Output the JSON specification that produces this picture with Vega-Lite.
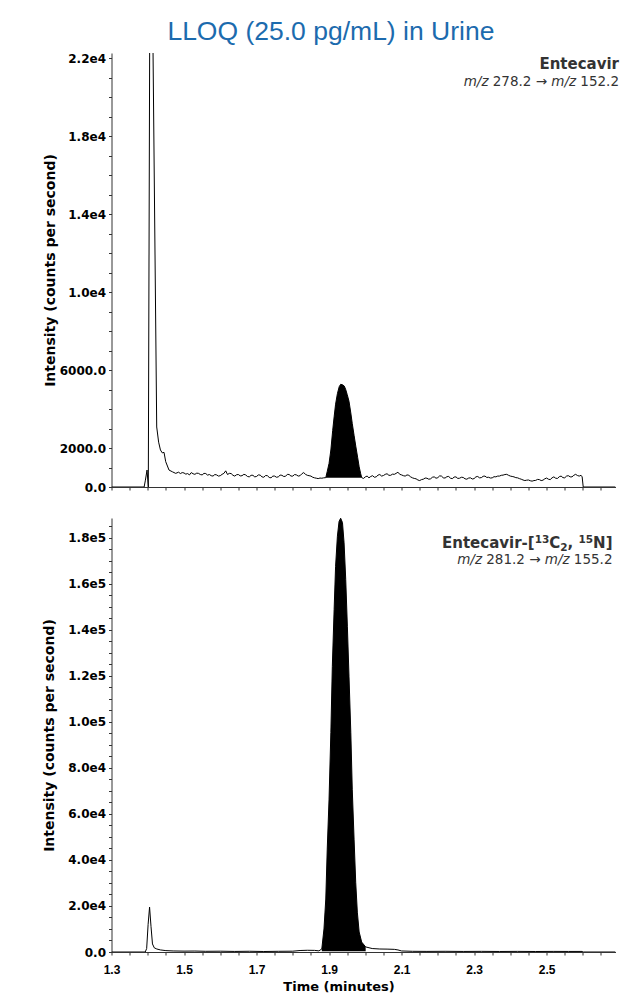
{
  "$schema": "https://vega.github.io/schema/vega-lite/v6.json",
  "background": "white",
  "padding": {"left": 42.5, "top": 18, "right": 5, "bottom": 5},
  "title": {"text": "LLOQ (25.0 pg/mL) in Urine", "font": "Liberation Sans", "fontSize": 26.5, "fontWeight": "normal", "color": "#1c6bae", "anchor": "middle", "frame": "bounds", "offset": 7},
  "spacing": 25,
  "datasets": {
    "top": [
      {"t":1.3,"v":0},{"t":1.39,"v":0},{"t":1.3935,"v":350},{"t":1.398,"v":870},{"t":1.4015,"v":0},{"t":1.4065,"v":30000},{"t":1.4105,"v":30000},{"t":1.4247,"v":3080},{"t":1.43,"v":2300},{"t":1.435,"v":1900},{"t":1.4401,"v":1750},{"t":1.4448,"v":1780},{"t":1.4495,"v":1300},{"t":1.4586,"v":870},{"t":1.468,"v":780},{"t":1.4771,"v":700},{"t":1.485,"v":760},{"t":1.49,"v":690},{"t":1.495,"v":740},
      {"t":1.5,"v":720},{"t":1.505,"v":660},{"t":1.51,"v":690},{"t":1.515,"v":620},{"t":1.52,"v":740},{"t":1.525,"v":680},{"t":1.53,"v":650},{"t":1.535,"v":710},{"t":1.54,"v":700},{"t":1.545,"v":640},{"t":1.55,"v":620},{"t":1.555,"v":700},{"t":1.56,"v":690},{"t":1.565,"v":610},{"t":1.57,"v":640},{"t":1.575,"v":580},{"t":1.58,"v":560},{"t":1.585,"v":640},{"t":1.59,"v":620},{"t":1.595,"v":560},
      {"t":1.6,"v":580},{"t":1.605,"v":650},{"t":1.61,"v":700},{"t":1.615,"v":830},{"t":1.62,"v":640},{"t":1.625,"v":700},{"t":1.63,"v":690},{"t":1.635,"v":600},{"t":1.64,"v":560},{"t":1.645,"v":630},{"t":1.65,"v":640},{"t":1.655,"v":570},{"t":1.66,"v":580},{"t":1.665,"v":650},{"t":1.67,"v":620},{"t":1.675,"v":540},{"t":1.68,"v":520},{"t":1.685,"v":600},{"t":1.69,"v":600},{"t":1.695,"v":520},
      {"t":1.7,"v":540},{"t":1.705,"v":620},{"t":1.71,"v":610},{"t":1.715,"v":520},{"t":1.72,"v":500},{"t":1.725,"v":590},{"t":1.73,"v":580},{"t":1.735,"v":490},{"t":1.74,"v":470},{"t":1.745,"v":560},{"t":1.75,"v":560},{"t":1.755,"v":500},{"t":1.76,"v":520},{"t":1.765,"v":610},{"t":1.77,"v":600},{"t":1.775,"v":540},{"t":1.78,"v":550},{"t":1.785,"v":650},{"t":1.79,"v":640},{"t":1.795,"v":560},
      {"t":1.8,"v":560},{"t":1.805,"v":640},{"t":1.81,"v":620},{"t":1.815,"v":560},{"t":1.82,"v":580},{"t":1.825,"v":680},{"t":1.83,"v":740},{"t":1.835,"v":650},{"t":1.84,"v":600},{"t":1.845,"v":580},{"t":1.85,"v":560},{"t":1.855,"v":500},{"t":1.86,"v":470},{"t":1.865,"v":450},{"t":1.87,"v":430},{"t":1.875,"v":460},{"t":1.88,"v":450},{"t":1.885,"v":470},
      {"t":1.891,"v":480},{"t":1.895,"v":800},{"t":1.9,"v":1210},{"t":1.905,"v":1900},{"t":1.91,"v":2900},{"t":1.914,"v":3600},{"t":1.918,"v":4250},{"t":1.923,"v":4790},{"t":1.928,"v":5150},{"t":1.932,"v":5270},{"t":1.937,"v":5250},{"t":1.942,"v":5180},{"t":1.946,"v":5000},{"t":1.95,"v":4750},{"t":1.955,"v":4400},{"t":1.96,"v":3800},{"t":1.964,"v":3260},{"t":1.969,"v":2650},{"t":1.974,"v":2060},{"t":1.979,"v":1500},{"t":1.983,"v":1040},{"t":1.987,"v":700},{"t":1.99,"v":480},{"t":1.995,"v":440},
      {"t":2.0,"v":520},{"t":2.005,"v":560},{"t":2.01,"v":470},{"t":2.015,"v":540},{"t":2.02,"v":580},{"t":2.025,"v":500},{"t":2.03,"v":520},{"t":2.035,"v":610},{"t":2.04,"v":640},{"t":2.045,"v":560},{"t":2.05,"v":590},{"t":2.055,"v":650},{"t":2.06,"v":680},{"t":2.065,"v":600},{"t":2.07,"v":600},{"t":2.075,"v":660},{"t":2.08,"v":650},{"t":2.085,"v":700},{"t":2.09,"v":760},{"t":2.095,"v":650},
      {"t":2.1,"v":620},{"t":2.105,"v":580},{"t":2.11,"v":560},{"t":2.115,"v":620},{"t":2.12,"v":600},{"t":2.125,"v":520},{"t":2.13,"v":470},{"t":2.135,"v":440},{"t":2.14,"v":420},{"t":2.145,"v":360},{"t":2.15,"v":330},{"t":2.155,"v":380},{"t":2.16,"v":400},{"t":2.165,"v":460},{"t":2.17,"v":450},{"t":2.175,"v":400},{"t":2.18,"v":420},{"t":2.185,"v":500},{"t":2.19,"v":520},{"t":2.195,"v":450},
      {"t":2.2,"v":480},{"t":2.205,"v":570},{"t":2.21,"v":560},{"t":2.215,"v":470},{"t":2.22,"v":460},{"t":2.225,"v":530},{"t":2.23,"v":540},{"t":2.235,"v":450},{"t":2.24,"v":430},{"t":2.245,"v":510},{"t":2.25,"v":520},{"t":2.255,"v":440},{"t":2.26,"v":450},{"t":2.265,"v":500},{"t":2.27,"v":490},{"t":2.275,"v":420},{"t":2.28,"v":400},{"t":2.285,"v":460},{"t":2.29,"v":470},{"t":2.295,"v":410},
      {"t":2.3,"v":430},{"t":2.305,"v":520},{"t":2.31,"v":540},{"t":2.315,"v":470},{"t":2.32,"v":480},{"t":2.325,"v":550},{"t":2.33,"v":560},{"t":2.335,"v":490},{"t":2.34,"v":500},{"t":2.345,"v":460},{"t":2.35,"v":470},{"t":2.355,"v":530},{"t":2.36,"v":520},{"t":2.365,"v":560},{"t":2.37,"v":560},{"t":2.375,"v":600},{"t":2.38,"v":610},{"t":2.385,"v":640},{"t":2.39,"v":650},{"t":2.395,"v":600},
      {"t":2.4,"v":560},{"t":2.405,"v":540},{"t":2.41,"v":520},{"t":2.415,"v":480},{"t":2.42,"v":470},{"t":2.425,"v":430},{"t":2.43,"v":400},{"t":2.435,"v":360},{"t":2.44,"v":330},{"t":2.445,"v":350},{"t":2.45,"v":360},{"t":2.455,"v":320},{"t":2.46,"v":300},{"t":2.465,"v":330},{"t":2.47,"v":340},{"t":2.475,"v":390},{"t":2.48,"v":380},{"t":2.485,"v":330},{"t":2.49,"v":350},{"t":2.495,"v":420},
      {"t":2.5,"v":460},{"t":2.505,"v":400},{"t":2.51,"v":380},{"t":2.515,"v":470},{"t":2.52,"v":520},{"t":2.525,"v":450},{"t":2.53,"v":440},{"t":2.535,"v":530},{"t":2.54,"v":560},{"t":2.545,"v":480},{"t":2.55,"v":470},{"t":2.555,"v":560},{"t":2.56,"v":580},{"t":2.565,"v":520},{"t":2.57,"v":520},{"t":2.575,"v":600},{"t":2.58,"v":650},{"t":2.585,"v":590},{"t":2.59,"v":560},{"t":2.595,"v":600},{"t":2.598,"v":520},{"t":2.601,"v":0},{"t":2.69,"v":0}
    ],
    "topPeak": [
      {"t":1.891,"v":480,"base":480},{"t":1.895,"v":800,"base":480},{"t":1.9,"v":1210,"base":480},{"t":1.905,"v":1900,"base":480},{"t":1.91,"v":2900,"base":480},{"t":1.914,"v":3600,"base":480},{"t":1.918,"v":4250,"base":480},{"t":1.923,"v":4790,"base":480},{"t":1.928,"v":5150,"base":480},{"t":1.932,"v":5270,"base":480},{"t":1.937,"v":5250,"base":480},{"t":1.942,"v":5180,"base":480},{"t":1.946,"v":5000,"base":480},{"t":1.95,"v":4750,"base":480},{"t":1.955,"v":4400,"base":480},{"t":1.96,"v":3800,"base":480},{"t":1.964,"v":3260,"base":480},{"t":1.969,"v":2650,"base":480},{"t":1.974,"v":2060,"base":480},{"t":1.979,"v":1500,"base":480},{"t":1.983,"v":1040,"base":480},{"t":1.987,"v":700,"base":480},{"t":1.99,"v":480,"base":480}
    ],
    "bottom": [
      {"t":1.3,"v":0},{"t":1.393,"v":0},{"t":1.397,"v":1500},{"t":1.401,"v":12000},{"t":1.405,"v":19500},{"t":1.409,"v":11000},{"t":1.413,"v":3500},{"t":1.418,"v":1800},{"t":1.425,"v":1300},{"t":1.435,"v":900},{"t":1.45,"v":600},{"t":1.47,"v":450},{"t":1.5,"v":380},{"t":1.53,"v":420},{"t":1.56,"v":300},{"t":1.6,"v":350},{"t":1.64,"v":250},{"t":1.68,"v":320},{"t":1.72,"v":220},{"t":1.76,"v":300},{"t":1.8,"v":350},{"t":1.82,"v":650},{"t":1.84,"v":750},{"t":1.86,"v":700},{"t":1.872,"v":500},
      {"t":1.88,"v":1300},{"t":1.886,"v":10000},{"t":1.891,"v":23000},{"t":1.895,"v":44700},{"t":1.9,"v":66400},{"t":1.905,"v":95400},{"t":1.909,"v":124000},{"t":1.914,"v":148800},{"t":1.918,"v":167500},{"t":1.923,"v":180600},{"t":1.9276,"v":187000},{"t":1.932,"v":188400},{"t":1.937,"v":186500},{"t":1.9414,"v":177700},{"t":1.946,"v":161800},{"t":1.9505,"v":141500},{"t":1.955,"v":119800},{"t":1.96,"v":95400},{"t":1.964,"v":70700},{"t":1.969,"v":49000},{"t":1.9735,"v":30300},{"t":1.978,"v":17300},{"t":1.983,"v":8700},{"t":1.99,"v":4300},{"t":2.001,"v":2200},
      {"t":2.019,"v":1500},{"t":2.04,"v":1300},{"t":2.06,"v":1250},{"t":2.08,"v":1150},{"t":2.09,"v":900},{"t":2.1,"v":450},{"t":2.13,"v":300},{"t":2.17,"v":260},{"t":2.22,"v":300},{"t":2.27,"v":240},{"t":2.32,"v":280},{"t":2.37,"v":230},{"t":2.42,"v":270},{"t":2.47,"v":220},{"t":2.52,"v":260},{"t":2.56,"v":240},{"t":2.598,"v":250},{"t":2.601,"v":0},{"t":2.69,"v":0}
    ],
    "bottomPeak": [
      {"t":1.88,"v":1300,"base":300},{"t":1.886,"v":10000,"base":300},{"t":1.891,"v":23000,"base":300},{"t":1.895,"v":44700,"base":300},{"t":1.9,"v":66400,"base":300},{"t":1.905,"v":95400,"base":300},{"t":1.909,"v":124000,"base":300},{"t":1.914,"v":148800,"base":300},{"t":1.918,"v":167500,"base":300},{"t":1.923,"v":180600,"base":300},{"t":1.9276,"v":187000,"base":300},{"t":1.932,"v":188400,"base":300},{"t":1.937,"v":186500,"base":300},{"t":1.9414,"v":177700,"base":300},{"t":1.946,"v":161800,"base":300},{"t":1.9505,"v":141500,"base":300},{"t":1.955,"v":119800,"base":300},{"t":1.96,"v":95400,"base":300},{"t":1.964,"v":70700,"base":300},{"t":1.969,"v":49000,"base":300},{"t":1.9735,"v":30300,"base":300},{"t":1.978,"v":17300,"base":300},{"t":1.983,"v":8700,"base":300},{"t":1.99,"v":4300,"base":300},{"t":2.001,"v":2200,"base":300}
    ],
    "topLabels": [
      {"piece": "name", "s": "Entecavir"},
      {"piece": "q3", "s": "152.2"},
      {"piece": "mz2", "s": "m/z"},
      {"piece": "q1", "s": "278.2 →"},
      {"piece": "mz1", "s": "m/z"}
    ],
    "bottomLabels": [
      {"piece": "name", "s": "Entecavir-["},
      {"piece": "sup13", "s": "13"},
      {"piece": "C", "s": "C"},
      {"piece": "sub2", "s": "2"},
      {"piece": "comma", "s": ","},
      {"piece": "sup15", "s": "15"},
      {"piece": "N", "s": "N]"},
      {"piece": "q3", "s": "155.2"},
      {"piece": "mz2", "s": "m/z"},
      {"piece": "q1", "s": "281.2 →"},
      {"piece": "mz1", "s": "m/z"}
    ]
  },
  "vconcat": [
    {
      "width": 504,
      "height": 434,
      "layer": [
        {
          "data": {"name": "topPeak"},
          "mark": {"type": "area", "color": "#000000", "clip": true},
          "encoding": {
            "x": {"field": "t", "type": "quantitative", "scale": {"domain": [1.3, 2.69], "nice": false, "zero": false},
              "axis": {"values": [1.3,1.35,1.4,1.45,1.5,1.55,1.6,1.65,1.7,1.75,1.8,1.85,1.9,1.95,2.0,2.05,2.1,2.15,2.2,2.25,2.3,2.35,2.4,2.45,2.5,2.55,2.6,2.65], "tickCount": 200, "labels": false, "title": null}},
            "y": {"field": "v", "type": "quantitative", "scale": {"domain": [0, 22275], "nice": false, "zero": false},
              "axis": {"values": [0,1000,2000,3000,4000,5000,6000,7000,8000,9000,10000,11000,12000,13000,14000,15000,16000,17000,18000,19000,20000,21000,22000], "tickCount": 200,
                "labelExpr": "datum.value == 0 ? '0.0' : (datum.value - 2000) % 4000 != 0 ? '' : datum.value < 10000 ? format(datum.value, '.1f') : format(datum.value / 10000, '.1f') + 'e4'",
                "title": "Intensity (counts per second)", "titlePadding": 2}},
            "y2": {"field": "base"}
          }
        },
        {
          "data": {"name": "top"},
          "mark": {"type": "line", "color": "#000000", "strokeWidth": 1, "clip": true},
          "encoding": {
            "x": {"field": "t", "type": "quantitative", "scale": {"domain": [1.3, 2.69], "nice": false, "zero": false},
              "axis": {"values": [1.3,1.35,1.4,1.45,1.5,1.55,1.6,1.65,1.7,1.75,1.8,1.85,1.9,1.95,2.0,2.05,2.1,2.15,2.2,2.25,2.3,2.35,2.4,2.45,2.5,2.55,2.6,2.65], "tickCount": 200, "labels": false, "title": null}},
            "y": {"field": "v", "type": "quantitative", "scale": {"domain": [0, 22275], "nice": false, "zero": false},
              "axis": {"values": [0,1000,2000,3000,4000,5000,6000,7000,8000,9000,10000,11000,12000,13000,14000,15000,16000,17000,18000,19000,20000,21000,22000], "tickCount": 200,
                "labelExpr": "datum.value == 0 ? '0.0' : (datum.value - 2000) % 4000 != 0 ? '' : datum.value < 10000 ? format(datum.value, '.1f') : format(datum.value / 10000, '.1f') + 'e4'",
                "title": "Intensity (counts per second)", "titlePadding": 2}}
          }
        },
        {
          "data": {"name": "topLabels"},
          "transform": [{"filter": "datum.piece == 'name'"}],
          "mark": {"type": "text", "align": "right", "baseline": "alphabetic", "font": "DejaVu Sans", "fontWeight": "bold", "fontSize": 15, "color": "#333333", "dx": 3.5, "dy": 15.5},
          "encoding": {"x": {"datum": 2.69, "type": "quantitative"}, "y": {"datum": 22275, "type": "quantitative"}, "text": {"field": "s"}}
        },
        {
          "data": {"name": "topLabels"},
          "transform": [{"filter": "datum.piece == 'q3'"}],
          "mark": {"type": "text", "align": "right", "baseline": "alphabetic", "font": "DejaVu Sans", "fontSize": 13.5, "color": "#333333", "dx": 3.5, "dy": 33},
          "encoding": {"x": {"datum": 2.69, "type": "quantitative"}, "y": {"datum": 22275, "type": "quantitative"}, "text": {"field": "s"}}
        },
        {
          "data": {"name": "topLabels"},
          "transform": [{"filter": "datum.piece == 'mz2'"}],
          "mark": {"type": "text", "align": "right", "baseline": "alphabetic", "font": "DejaVu Sans", "fontStyle": "italic", "fontSize": 13.5, "color": "#333333", "dx": -39.4, "dy": 33},
          "encoding": {"x": {"datum": 2.69, "type": "quantitative"}, "y": {"datum": 22275, "type": "quantitative"}, "text": {"field": "s"}}
        },
        {
          "data": {"name": "topLabels"},
          "transform": [{"filter": "datum.piece == 'q1'"}],
          "mark": {"type": "text", "align": "right", "baseline": "alphabetic", "font": "DejaVu Sans", "fontSize": 13.5, "color": "#333333", "dx": -68.5, "dy": 33},
          "encoding": {"x": {"datum": 2.69, "type": "quantitative"}, "y": {"datum": 22275, "type": "quantitative"}, "text": {"field": "s"}}
        },
        {
          "data": {"name": "topLabels"},
          "transform": [{"filter": "datum.piece == 'mz1'"}],
          "mark": {"type": "text", "align": "right", "baseline": "alphabetic", "font": "DejaVu Sans", "fontStyle": "italic", "fontSize": 13.5, "color": "#333333", "dx": -127, "dy": 33},
          "encoding": {"x": {"datum": 2.69, "type": "quantitative"}, "y": {"datum": 22275, "type": "quantitative"}, "text": {"field": "s"}}
        }
      ]
    },
    {
      "width": 504,
      "height": 434,
      "layer": [
        {
          "data": {"name": "bottomPeak"},
          "mark": {"type": "area", "color": "#000000", "clip": true},
          "encoding": {
            "x": {"field": "t", "type": "quantitative", "scale": {"domain": [1.3, 2.69], "nice": false, "zero": false},
              "axis": {"values": [1.3,1.35,1.4,1.45,1.5,1.55,1.6,1.65,1.7,1.75,1.8,1.85,1.9,1.95,2.0,2.05,2.1,2.15,2.2,2.25,2.3,2.35,2.4,2.45,2.5,2.55,2.6,2.65], "tickCount": 200,
                "labelExpr": "round(datum.value * 100) % 20 == 10 ? format(datum.value, '.1f') : ''",
                "labelFont": "Liberation Sans", "labelFontSize": 12, "labelPadding": 9,
                "title": "Time (minutes)", "titleFontSize": 13, "titlePadding": 5, "titleX": 227}},
            "y": {"field": "v", "type": "quantitative", "scale": {"domain": [0, 188500], "nice": false, "zero": false},
              "axis": {"values": [0,5000,10000,15000,20000,25000,30000,35000,40000,45000,50000,55000,60000,65000,70000,75000,80000,85000,90000,95000,100000,105000,110000,115000,120000,125000,130000,135000,140000,145000,150000,155000,160000,165000,170000,175000,180000,185000], "tickCount": 200,
                "labelExpr": "datum.value % 20000 != 0 ? '' : datum.value == 0 ? '0.0' : datum.value < 100000 ? format(datum.value / 10000, '.1f') + 'e4' : format(datum.value / 100000, '.1f') + 'e5'",
                "title": "Intensity (counts per second)", "titlePadding": 11}},
            "y2": {"field": "base"}
          }
        },
        {
          "data": {"name": "bottom"},
          "mark": {"type": "line", "color": "#000000", "strokeWidth": 1, "clip": true},
          "encoding": {
            "x": {"field": "t", "type": "quantitative", "scale": {"domain": [1.3, 2.69], "nice": false, "zero": false},
              "axis": {"values": [1.3,1.35,1.4,1.45,1.5,1.55,1.6,1.65,1.7,1.75,1.8,1.85,1.9,1.95,2.0,2.05,2.1,2.15,2.2,2.25,2.3,2.35,2.4,2.45,2.5,2.55,2.6,2.65], "tickCount": 200,
                "labelExpr": "round(datum.value * 100) % 20 == 10 ? format(datum.value, '.1f') : ''",
                "labelFont": "Liberation Sans", "labelFontSize": 12, "labelPadding": 9,
                "title": "Time (minutes)", "titleFontSize": 13, "titlePadding": 5, "titleX": 227}},
            "y": {"field": "v", "type": "quantitative", "scale": {"domain": [0, 188500], "nice": false, "zero": false},
              "axis": {"values": [0,5000,10000,15000,20000,25000,30000,35000,40000,45000,50000,55000,60000,65000,70000,75000,80000,85000,90000,95000,100000,105000,110000,115000,120000,125000,130000,135000,140000,145000,150000,155000,160000,165000,170000,175000,180000,185000], "tickCount": 200,
                "labelExpr": "datum.value % 20000 != 0 ? '' : datum.value == 0 ? '0.0' : datum.value < 100000 ? format(datum.value / 10000, '.1f') + 'e4' : format(datum.value / 100000, '.1f') + 'e5'",
                "title": "Intensity (counts per second)", "titlePadding": 11}}
          }
        },
        {
          "data": {"name": "bottomLabels"},
          "transform": [{"filter": "datum.piece == 'name'"}],
          "mark": {"type": "text", "align": "right", "baseline": "alphabetic", "font": "DejaVu Sans", "fontWeight": "bold", "fontSize": 15, "color": "#333333", "dx": -80.8, "dy": 30},
          "encoding": {"x": {"datum": 2.69, "type": "quantitative"}, "y": {"datum": 188500, "type": "quantitative"}, "text": {"field": "s"}}
        },
        {
          "data": {"name": "bottomLabels"},
          "transform": [{"filter": "datum.piece == 'sup13'"}],
          "mark": {"type": "text", "align": "right", "baseline": "alphabetic", "font": "DejaVu Sans", "fontWeight": "bold", "fontSize": 10.5, "color": "#333333", "dx": -66.2, "dy": 25},
          "encoding": {"x": {"datum": 2.69, "type": "quantitative"}, "y": {"datum": 188500, "type": "quantitative"}, "text": {"field": "s"}}
        },
        {
          "data": {"name": "bottomLabels"},
          "transform": [{"filter": "datum.piece == 'C'"}],
          "mark": {"type": "text", "align": "right", "baseline": "alphabetic", "font": "DejaVu Sans", "fontWeight": "bold", "fontSize": 15, "color": "#333333", "dx": -55.2, "dy": 30},
          "encoding": {"x": {"datum": 2.69, "type": "quantitative"}, "y": {"datum": 188500, "type": "quantitative"}, "text": {"field": "s"}}
        },
        {
          "data": {"name": "bottomLabels"},
          "transform": [{"filter": "datum.piece == 'sub2'"}],
          "mark": {"type": "text", "align": "right", "baseline": "alphabetic", "font": "DejaVu Sans", "fontWeight": "bold", "fontSize": 10.5, "color": "#333333", "dx": -47.9, "dy": 33},
          "encoding": {"x": {"datum": 2.69, "type": "quantitative"}, "y": {"datum": 188500, "type": "quantitative"}, "text": {"field": "s"}}
        },
        {
          "data": {"name": "bottomLabels"},
          "transform": [{"filter": "datum.piece == 'comma'"}],
          "mark": {"type": "text", "align": "right", "baseline": "alphabetic", "font": "DejaVu Sans", "fontWeight": "bold", "fontSize": 15, "color": "#333333", "dx": -42.2, "dy": 30},
          "encoding": {"x": {"datum": 2.69, "type": "quantitative"}, "y": {"datum": 188500, "type": "quantitative"}, "text": {"field": "s"}}
        },
        {
          "data": {"name": "bottomLabels"},
          "transform": [{"filter": "datum.piece == 'sup15'"}],
          "mark": {"type": "text", "align": "right", "baseline": "alphabetic", "font": "DejaVu Sans", "fontWeight": "bold", "fontSize": 10.5, "color": "#333333", "dx": -22.4, "dy": 25},
          "encoding": {"x": {"datum": 2.69, "type": "quantitative"}, "y": {"datum": 188500, "type": "quantitative"}, "text": {"field": "s"}}
        },
        {
          "data": {"name": "bottomLabels"},
          "transform": [{"filter": "datum.piece == 'N'"}],
          "mark": {"type": "text", "align": "right", "baseline": "alphabetic", "font": "DejaVu Sans", "fontWeight": "bold", "fontSize": 15, "color": "#333333", "dx": -3, "dy": 30},
          "encoding": {"x": {"datum": 2.69, "type": "quantitative"}, "y": {"datum": 188500, "type": "quantitative"}, "text": {"field": "s"}}
        },
        {
          "data": {"name": "bottomLabels"},
          "transform": [{"filter": "datum.piece == 'q3'"}],
          "mark": {"type": "text", "align": "right", "baseline": "alphabetic", "font": "DejaVu Sans", "fontSize": 13.5, "color": "#333333", "dx": -3, "dy": 46},
          "encoding": {"x": {"datum": 2.69, "type": "quantitative"}, "y": {"datum": 188500, "type": "quantitative"}, "text": {"field": "s"}}
        },
        {
          "data": {"name": "bottomLabels"},
          "transform": [{"filter": "datum.piece == 'mz2'"}],
          "mark": {"type": "text", "align": "right", "baseline": "alphabetic", "font": "DejaVu Sans", "fontStyle": "italic", "fontSize": 13.5, "color": "#333333", "dx": -45.9, "dy": 46},
          "encoding": {"x": {"datum": 2.69, "type": "quantitative"}, "y": {"datum": 188500, "type": "quantitative"}, "text": {"field": "s"}}
        },
        {
          "data": {"name": "bottomLabels"},
          "transform": [{"filter": "datum.piece == 'q1'"}],
          "mark": {"type": "text", "align": "right", "baseline": "alphabetic", "font": "DejaVu Sans", "fontSize": 13.5, "color": "#333333", "dx": -75, "dy": 46},
          "encoding": {"x": {"datum": 2.69, "type": "quantitative"}, "y": {"datum": 188500, "type": "quantitative"}, "text": {"field": "s"}}
        },
        {
          "data": {"name": "bottomLabels"},
          "transform": [{"filter": "datum.piece == 'mz1'"}],
          "mark": {"type": "text", "align": "right", "baseline": "alphabetic", "font": "DejaVu Sans", "fontStyle": "italic", "fontSize": 13.5, "color": "#333333", "dx": -133.5, "dy": 46},
          "encoding": {"x": {"datum": 2.69, "type": "quantitative"}, "y": {"datum": 188500, "type": "quantitative"}, "text": {"field": "s"}}
        }
      ]
    }
  ],
  "config": {
    "view": {"stroke": null},
    "font": "DejaVu Sans",
    "axis": {
      "grid": false,
      "domainColor": "#333333",
      "tickColor": "#333333",
      "tickSize": 3,
      "domainWidth": 1,
      "tickWidth": 1,
      "labelColor": "#000000",
      "labelFont": "DejaVu Sans",
      "labelFontWeight": "bold",
      "labelFontSize": 12,
      "labelPadding": 3,
      "labelOverlap": false,
      "labelFlush": false,
      "labelBound": false,
      "titleColor": "#000000",
      "titleFont": "DejaVu Sans",
      "titleFontWeight": "bold",
      "titleFontSize": 14
    }
  }
}
